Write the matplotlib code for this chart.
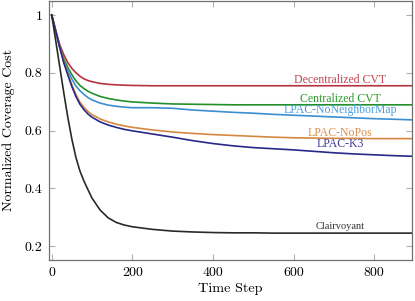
import matplotlib
matplotlib.use("Agg")
import matplotlib.pyplot as plt

t = [0, 10, 20, 30, 40, 50, 60, 70, 80, 90, 100, 120, 140, 160, 180, 200,
     250, 300, 350, 400, 450, 500, 550, 600, 650, 700, 750, 800, 850, 893]

decentralized = [1.0, 0.945, 0.897, 0.862, 0.835, 0.815, 0.8, 0.788, 0.779, 0.773, 0.769,
                 0.763, 0.760, 0.758, 0.757, 0.756, 0.755, 0.755, 0.755, 0.755, 0.755, 0.755,
                 0.755, 0.755, 0.755, 0.755, 0.755, 0.755, 0.755, 0.755]
centralized = [1.0, 0.942, 0.888, 0.848, 0.818, 0.793, 0.772, 0.756, 0.745, 0.736, 0.729,
               0.718, 0.711, 0.706, 0.702, 0.699, 0.695, 0.692, 0.691, 0.690, 0.689, 0.689,
               0.689, 0.689, 0.689, 0.689, 0.689, 0.689, 0.689, 0.689]
no_neighbor = [1.0, 0.942, 0.885, 0.838, 0.806, 0.778, 0.754, 0.738, 0.725, 0.714, 0.706,
               0.695, 0.688, 0.684, 0.681, 0.679, 0.679, 0.677, 0.671, 0.667, 0.663, 0.660,
               0.656, 0.653, 0.650, 0.647, 0.644, 0.641, 0.639, 0.637]
no_pos = [1.0, 0.945, 0.89, 0.838, 0.797, 0.758, 0.725, 0.698, 0.68, 0.666, 0.655,
          0.64, 0.63, 0.622, 0.616, 0.611, 0.602, 0.595, 0.590, 0.586, 0.583, 0.580,
          0.577, 0.575, 0.574, 0.573, 0.573, 0.572, 0.572, 0.572]
k3 = [1.0, 0.945, 0.888, 0.834, 0.792, 0.752, 0.718, 0.691, 0.672, 0.657, 0.646,
      0.63, 0.619, 0.611, 0.604, 0.599, 0.588, 0.577, 0.565, 0.555, 0.547, 0.541,
      0.537, 0.533, 0.528, 0.523, 0.519, 0.516, 0.513, 0.511]
clairvoyant = [1.0, 0.91, 0.82, 0.73, 0.645, 0.57, 0.507, 0.46, 0.425, 0.395, 0.366,
               0.325, 0.298, 0.282, 0.273, 0.267, 0.258, 0.252, 0.249, 0.247, 0.246, 0.246,
               0.245, 0.245, 0.245, 0.245, 0.245, 0.245, 0.245, 0.245]

names = ["Decentralized CVT", "Centralized CVT", "LPAC-NoNeighborMap",
         "LPAC-NoPos", "LPAC-K3", "Clairvoyant"]
label_y = [0.776, 0.710, 0.672, 0.592, 0.552, 0.268]
label_x = 715

plt.rcParams["font.family"] = ["Liberation Serif", "DejaVu Serif"]

fig = plt.figure(figsize=(4.15, 3.01), dpi=100)
ax = fig.add_axes([49.3 / 415, 41 / 301, 362.4 / 415, 259.5 / 301])

series = [decentralized, centralized, no_neighbor, no_pos, k3, clairvoyant]
colors = ["#b5323f", "#22902a", "#3a8ed2", "#d4883f", "#28288a", "#2a2a2a"]
text_colors = ["#c04450", "#2a9a2a", "#4a9ee0", "#d8904c", "#3a3a9a", "#333333"]

for ys, c in zip(series, colors):
    ax.plot(t, ys, color=c, lw=1.2)

for name, ly, tc in zip(names, label_y, text_colors):
    fs = 7.5 if name == "Clairvoyant" else 8.5
    ax.text(label_x, ly, name, color=tc, fontsize=fs, ha="center", va="center")

ax.set_xlim(-6, 893)
ax.set_ylim(0.152, 1.05)
ax.set_xticks([0, 200, 400, 600, 800])
ax.set_yticks([0.2, 0.4, 0.6, 0.8, 1.0])
ax.set_yticklabels(["0.2", "0.4", "0.6", "0.8", "1"])
ax.tick_params(direction="in", length=4, width=0.8, color="#b0b0b0",
               top=True, right=True, labelsize=10, pad=5)
for lab in ax.get_xticklabels() + ax.get_yticklabels():
    lab.set_family("cmr10")
for s in ax.spines.values():
    s.set_color("#707070")
    s.set_linewidth(0.9)

ax.set_xlabel("Time Step", fontsize=10.2, labelpad=3, family="cmr10")
ax.set_ylabel("Normalized Coverage Cost", fontsize=10, labelpad=7, family="cmr10")

fig.savefig("out.png", dpi=100)
